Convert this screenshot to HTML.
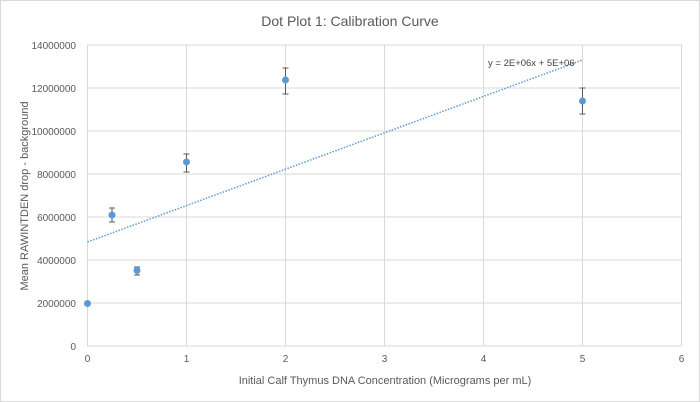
<!DOCTYPE html>
<html><head><style>body{margin:0;background:#fff}svg{display:block}</style></head><body>
<svg width="700" height="402" xmlns="http://www.w3.org/2000/svg" font-family="Liberation Sans, sans-serif">
<rect x="0.5" y="0.5" width="699" height="401" fill="#fff" stroke="#d9d9d9"/>
<text x="350" y="26" text-anchor="middle" font-size="14" fill="#595959">Dot Plot 1: Calibration Curve</text>
<g stroke="#d9d9d9" stroke-width="1">
<line x1="87.5" y1="45" x2="682" y2="45"/><line x1="87.5" y1="88" x2="682" y2="88"/>
<line x1="87.5" y1="131" x2="682" y2="131"/><line x1="87.5" y1="174" x2="682" y2="174"/>
<line x1="87.5" y1="217" x2="682" y2="217"/><line x1="87.5" y1="260" x2="682" y2="260"/>
<line x1="87.5" y1="303" x2="682" y2="303"/>
<line x1="186.5" y1="45" x2="186.5" y2="346"/><line x1="285.5" y1="45" x2="285.5" y2="346"/>
<line x1="384.5" y1="45" x2="384.5" y2="346"/><line x1="483.5" y1="45" x2="483.5" y2="346"/>
<line x1="582.5" y1="45" x2="582.5" y2="346"/><line x1="681.5" y1="45" x2="681.5" y2="346"/>
<line x1="87.5" y1="45" x2="87.5" y2="346"/>
<line x1="87.5" y1="346" x2="682" y2="346"/>
</g>
<g font-size="10" fill="#595959" text-anchor="end">
<text x="76" y="49">14000000</text><text x="76" y="92">12000000</text><text x="76" y="135">10000000</text>
<text x="76" y="178">8000000</text><text x="76" y="221">6000000</text><text x="76" y="264">4000000</text>
<text x="76" y="307">2000000</text><text x="76" y="350">0</text>
</g>
<g font-size="10" fill="#595959" text-anchor="middle">
<text x="87.5" y="362">0</text><text x="186.5" y="362">1</text><text x="285.5" y="362">2</text>
<text x="384.5" y="362">3</text><text x="483.5" y="362">4</text><text x="582.5" y="362">5</text><text x="681.5" y="362">6</text>
</g>
<text x="385" y="384" text-anchor="middle" font-size="11" fill="#595959">Initial Calf Thymus DNA Concentration (Micrograms per mL)</text>
<text transform="translate(28,196) rotate(-90)" text-anchor="middle" font-size="11" fill="#595959">Mean RAWINTDEN drop - background</text>
<line x1="87.5" y1="242" x2="582.5" y2="60" stroke="#5b9bd5" stroke-width="1.5" stroke-dasharray="1.5,1.5"/>
<text x="488" y="66" font-size="9.5" fill="#404040">y = 2E+06x + 5E+06</text>
<g stroke="#595959" stroke-width="1" fill="none">
<path d="M112,208V222M109,208h6M109,222h6"/>
<path d="M137,267V275M134,267h6M134,275h6"/>
<path d="M186.5,154V172M183.5,154h6M183.5,172h6"/>
<path d="M285.5,68V94M282.5,68h6M282.5,94h6"/>
<path d="M582.5,88V114M579.5,88h6M579.5,114h6"/>
</g>
<g fill="#5b9bd5">
<circle cx="87.5" cy="303.5" r="3.5"/><circle cx="112" cy="215" r="3.5"/><circle cx="137" cy="270.5" r="3.5"/>
<circle cx="186.5" cy="162" r="3.5"/><circle cx="285.5" cy="80" r="3.5"/><circle cx="582.5" cy="101" r="3.5"/>
</g>
</svg>
</body></html>
